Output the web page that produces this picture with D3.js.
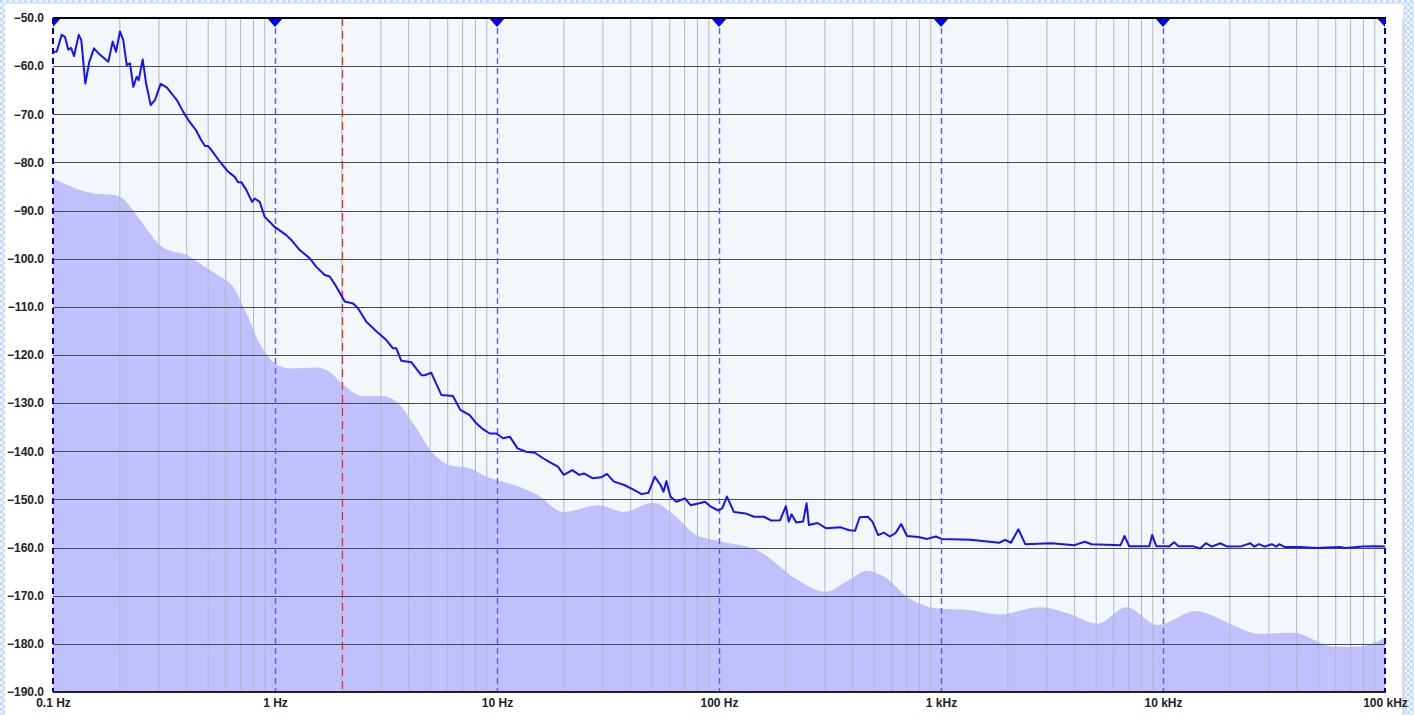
<!DOCTYPE html>
<html>
<head>
<meta charset="utf-8">
<script src="https://cdn.jsdelivr.net/npm/d3@7"></script>
<style>
  html, body { margin: 0; padding: 0; background: #fff; }
  svg { display: block; }
</style>
</head>
<body>
<div id="chart"></div>
<script>
// Spectrum trace (blue line): frequency in Hz, level in dB
const lineFreq = [
  0.1, 0.1039, 0.1094, 0.1132, 0.1172, 0.1206, 0.1244, 0.1306, 0.1341, 0.1398,
  0.1457, 0.1530, 0.1600, 0.1775, 0.1857, 0.1922, 0.2003, 0.2073, 0.2148, 0.2222,
  0.2300, 0.2382, 0.2432, 0.2535, 0.2624, 0.2755, 0.2880, 0.3055, 0.3252, 0.3607,
  0.3862, 0.4069, 0.4406, 0.4642, 0.4842, 0.4997, 0.5165, 0.5634, 0.6141, 0.6586,
  0.6814, 0.7051, 0.7424, 0.7879, 0.8100, 0.8534, 0.8989, 0.9968, 1.124, 1.184,
  1.292, 1.433, 1.535, 1.675, 1.764, 1.889, 2.061, 2.246, 2.365, 2.578,
  2.911, 3.173, 3.401, 3.519, 3.707, 4.111, 4.560, 4.724, 5.059, 5.612,
  6.335, 6.833, 7.535, 8.068, 8.647, 9.271, 9.927, 10.65, 11.44, 12.37,
  13.54, 14.80, 16.20, 17.18, 18.81, 19.98, 21.84, 23.46, 24.63, 26.93,
  29.47, 31.26, 33.62, 37.45, 40.95, 44.81, 48.13, 51.38, 54.56, 56.23,
  57.96, 60.41, 64.17, 70.15, 74.49, 81.53, 86.48, 91.86, 99.27, 103.6,
  108.6, 116.7, 131.5, 143.9, 159.4, 172.2, 188.5, 200.1, 206.1, 212.3,
  222.7, 239.2, 248.1, 254.1, 278.1, 304.0, 353.3, 386.3, 410.3, 430.3,
  468.1, 491.0, 521.3, 553.1, 587.4, 623.7, 661.7, 702.7, 791.7, 866.6,
  947.5, 1006, 1358, 1831, 1944, 2065, 2232, 2397, 3140, 3990,
  4440, 4769, 6436, 6709, 7042, 8681, 8938, 9329, 10700, 11230,
  11710, 13590, 14690, 15610, 16580, 18120, 19460, 22620, 24730, 25800,
  27060, 28740, 30870, 32380, 33370, 35430, 41150, 49240, 62580, 66390,
  79530, 89600, 100000
];
const lineDb = [
  -57.0, -57.0, -53.5, -53.9, -56.6, -56.2, -57.9, -53.5, -54.6, -63.6,
  -59.1, -56.3, -57.3, -59.1, -54.9, -57.0, -52.8, -54.6, -59.8, -59.4,
  -64.3, -62.2, -62.9, -58.6, -63.5, -68.1, -67.0, -63.7, -64.4, -67.0,
  -69.5, -71.2, -73.3, -75.3, -76.6, -76.6, -77.4, -79.8, -81.9, -83.0,
  -84.1, -84.1, -85.7, -88.2, -87.5, -88.2, -91.3, -93.4, -95.1, -96.1,
  -98.2, -99.9, -101.7, -103.4, -103.7, -105.8, -108.9, -109.3, -110.3, -113.1,
  -115.4, -116.9, -118.6, -118.6, -121.2, -121.5, -124.2, -124.2, -123.7, -128.3,
  -128.5, -131.4, -132.5, -134.2, -135.4, -136.3, -136.3, -137.3, -137.0, -139.4,
  -140.1, -140.3, -141.5, -142.2, -143.2, -144.9, -143.9, -144.9, -144.6, -145.6,
  -145.4, -144.7, -146.3, -147.0, -147.9, -148.9, -148.6, -145.3, -147.0, -148.4,
  -146.2, -149.4, -150.5, -149.8, -151.2, -150.8, -150.5, -151.5, -152.3, -151.8,
  -149.4, -152.6, -152.9, -153.6, -153.6, -154.4, -154.3, -151.4, -154.6, -153.1,
  -154.8, -154.6, -150.8, -155.3, -154.9, -156.0, -155.8, -156.4, -156.5, -153.7,
  -153.6, -154.6, -157.4, -156.9, -157.7, -157.0, -155.1, -157.6, -157.8, -158.2,
  -157.7, -158.2, -158.4, -159.0, -158.4, -159.0, -156.2, -159.3, -159.1, -159.5,
  -158.8, -159.3, -159.5, -157.6, -159.7, -159.7, -157.4, -159.7, -159.7, -158.9,
  -159.7, -159.7, -160.2, -159.1, -159.8, -159.1, -159.8, -159.7, -159.1, -159.8,
  -159.3, -159.8, -159.3, -159.8, -159.3, -159.9, -159.9, -160.1, -159.9, -160.1,
  -159.8, -159.7, -159.8
];

// Noise floor (filled area): frequency in Hz, level in dB
const floorFreq = [
  0.1, 0.151, 0.193, 0.2066, 0.229, 0.273, 0.303, 0.347, 0.399, 0.458,
  0.564, 0.647, 0.743, 0.853, 0.98, 1.16, 1.53, 1.76, 2.0, 2.49,
  3.06, 3.52, 4.19, 5.15, 6.12, 7.53, 8.96, 10.0, 12.7, 15.2,
  19.9, 28.6, 37.4, 50.4, 64.1, 76.7, 103.5, 148, 225, 304,
  386, 462, 553, 703, 948, 1359, 1832, 2782, 3755, 5066,
  6839, 9500, 14000, 20000, 27000, 38700, 58900, 74800, 100000
];
const floorDb = [
  -83.3, -86.4, -86.8, -87.5, -89.9, -94.7, -97.2, -98.5, -99.2, -101.0,
  -103.7, -105.8, -111.3, -117.6, -121.4, -122.8, -122.6, -123.5, -125.9, -128.5,
  -128.5, -129.7, -134.2, -140.4, -142.9, -143.5, -145.3, -146.0, -147.4, -149.1,
  -152.6, -151.2, -152.6, -150.7, -153.6, -157.0, -158.8, -160.5, -166.7, -169.2,
  -166.7, -164.8, -166.0, -170.2, -172.6, -173.0, -173.9, -172.4, -173.7, -175.8,
  -172.4, -176.1, -173.2, -175.8, -177.9, -177.7, -180.6, -180.6, -178.8
];

// Axes
const decadeTicks = [0.1, 1, 10, 100, 1000, 10000, 100000];
const decadeLabels = ['0.1 Hz', '1 Hz', '10 Hz', '100 Hz', '1 kHz', '10 kHz', '100 kHz'];
const dbTicks = [-50, -60, -70, -80, -90, -100, -110, -120, -130, -140, -150, -160, -170, -180, -190];
const cursorFreq = 2; // red cursor

const W = 1414, H = 715;
const plot = { left: 53, right: 1385, top: 18, bottom: 692 };

// snap a coordinate onto the pixel grid so 1px lines stay sharp
const crisp = v => Math.round(v) + 0.5;

const svg = d3.select('#chart').append('svg')
  .attr('width', W).attr('height', H);

// checkered page backdrop
const defs = svg.append('defs');
const pat = defs.append('pattern')
  .attr('id', 'checker').attr('width', 6).attr('height', 6)
  .attr('patternUnits', 'userSpaceOnUse');
pat.append('rect').attr('width', 6).attr('height', 6).attr('fill', '#eaf3ff');
pat.append('rect').attr('width', 3).attr('height', 3).attr('fill', '#c4dcfa');
pat.append('rect').attr('x', 3).attr('y', 3).attr('width', 3).attr('height', 3).attr('fill', '#c4dcfa');

defs.append('clipPath').attr('id', 'plotClip')
  .append('rect')
  .attr('x', plot.left).attr('y', plot.top)
  .attr('width', plot.right - plot.left).attr('height', plot.bottom - plot.top);

svg.append('rect').attr('width', W).attr('height', H).attr('fill', 'url(#checker)');
svg.append('rect').attr('x', 5).attr('y', 4).attr('width', 1398).attr('height', H - 4).attr('fill', '#fff');
svg.append('rect').attr('x', 1402).attr('y', 19).attr('width', 3).attr('height', H - 19).attr('fill', '#dcdcdc');

const x = d3.scaleLog().domain([0.1, 100000]).range([plot.left, plot.right]);
const y = d3.scaleLinear().domain([-190, -50]).range([plot.bottom, plot.top]);

// plot background
svg.append('rect')
  .attr('x', plot.left).attr('y', plot.top)
  .attr('width', plot.right - plot.left).attr('height', plot.bottom - plot.top)
  .attr('fill', '#f3f7fc');

const floorData = floorFreq.map((f, i) => [f, floorDb[i]]);
const lineData = lineFreq.map((f, i) => [f, lineDb[i]]);

// noise floor area
svg.append('path')
  .datum(floorData)
  .attr('clip-path', 'url(#plotClip)')
  .attr('fill', '#c0c0ff')
  .attr('d', d3.area()
    .x(d => x(d[0]))
    .y0(y(-190))
    .y1(d => y(d[1]))
    .curve(d3.curveMonotoneX));

// minor vertical grid (2..9 of each decade)
const minor = [];
decadeTicks.slice(0, -1).forEach(d => {
  for (let m = 2; m <= 9; m++) minor.push(d * m);
});
svg.append('g').selectAll('line')
  .data(minor)
  .enter().append('line')
  .attr('x1', d => x(d)).attr('x2', d => x(d))
  .attr('y1', plot.top).attr('y2', plot.bottom)
  .attr('stroke', '#b2b8c2')
  .attr('stroke-width', 1);

// horizontal grid
svg.append('g').selectAll('line')
  .data(dbTicks.slice(1, -1))
  .enter().append('line')
  .attr('x1', plot.left).attr('x2', plot.right)
  .attr('y1', d => crisp(y(d))).attr('y2', d => crisp(y(d)))
  .attr('stroke', '#4a4a4a')
  .attr('stroke-width', 1);

// decade marker lines
const isEdge = i => i === 0 || i === decadeTicks.length - 1;
svg.append('g').selectAll('line')
  .data(decadeTicks)
  .enter().append('line')
  .attr('x1', (d, i) => isEdge(i) ? x(d) : crisp(x(d)))
  .attr('x2', (d, i) => isEdge(i) ? x(d) : crisp(x(d)))
  .attr('y1', plot.top).attr('y2', plot.bottom)
  .attr('stroke', (d, i) => isEdge(i) ? '#0000b0' : '#5a5aff')
  .attr('stroke-width', (d, i) => isEdge(i) ? 2 : 1.4)
  .attr('stroke-dasharray', '6,4');

// red cursor
svg.append('line')
  .attr('x1', crisp(x(cursorFreq))).attr('x2', crisp(x(cursorFreq)))
  .attr('y1', plot.top).attr('y2', plot.bottom)
  .attr('stroke', '#ff2020')
  .attr('stroke-width', 1.2)
  .attr('stroke-dasharray', '8,5');

// spectrum trace
svg.append('path')
  .datum(lineData)
  .attr('clip-path', 'url(#plotClip)')
  .attr('fill', 'none')
  .attr('stroke', '#1414f5')
  .attr('stroke-width', 2)
  .attr('stroke-linejoin', 'round')
  .attr('d', d3.line().x(d => x(d[0])).y(d => y(d[1])));

// marker triangles on top edge
svg.append('g').attr('clip-path', 'url(#plotClip)')
  .selectAll('path')
  .data(decadeTicks)
  .enter().append('path')
  .attr('d', d => `M${x(d) - 8},${plot.top} L${x(d) + 8},${plot.top} L${x(d)},${plot.top + 9} Z`)
  .attr('fill', '#0000ff');

// frame (top and bottom)
svg.append('line')
  .attr('x1', plot.left).attr('x2', plot.right + 1)
  .attr('y1', plot.top).attr('y2', plot.top)
  .attr('stroke', '#000').attr('stroke-width', 2);
svg.append('line')
  .attr('x1', plot.left).attr('x2', plot.right + 1)
  .attr('y1', plot.bottom).attr('y2', plot.bottom)
  .attr('stroke', '#222').attr('stroke-width', 2);

// y axis labels
const yAxis = d3.axisLeft(y)
  .tickValues(dbTicks)
  .tickSize(0)
  .tickPadding(9)
  .tickFormat(d3.format('.1f'));
svg.append('g')
  .attr('transform', `translate(${plot.left},0)`)
  .call(yAxis)
  .call(g => g.select('.domain').remove())
  .selectAll('text')
  .attr('font-family', '"Liberation Sans", Arial, sans-serif')
  .attr('font-size', 12)
  .attr('font-weight', 'bold')
  .attr('fill', '#222');

// x axis labels
const xAxis = d3.axisBottom(x)
  .tickValues(decadeTicks)
  .tickSize(0)
  .tickPadding(6)
  .tickFormat((d, i) => decadeLabels[i]);
svg.append('g')
  .attr('transform', `translate(0,${plot.bottom})`)
  .call(xAxis)
  .call(g => g.select('.domain').remove())
  .selectAll('text')
  .attr('font-family', '"Liberation Sans", Arial, sans-serif')
  .attr('font-size', 12)
  .attr('font-weight', 'bold')
  .attr('fill', '#222');
</script>
</body>
</html>
